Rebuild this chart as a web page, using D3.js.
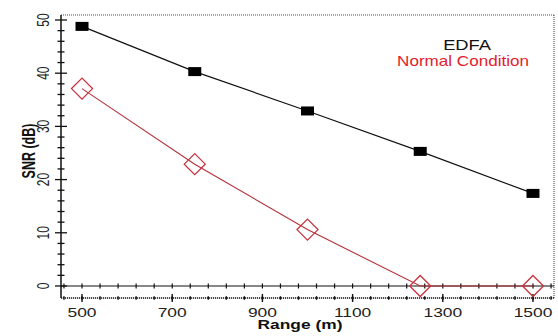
<!DOCTYPE html>
<html>
<head>
<meta charset="utf-8">
<script src="https://cdn.jsdelivr.net/npm/d3@7/dist/d3.min.js"></script>
<style>
  html, body { margin: 0; padding: 0; background: #fff; }
  svg { display: block; }
  text { font-family: "Liberation Sans", Arial, sans-serif; }
</style>
</head>
<body>
<svg id="chart" width="558" height="336"></svg>
<script>
// SNR versus link range, with and without EDFA
const ranges = [500, 750, 1000, 1250, 1500];
const snrEDFA = [48.8, 40.3, 32.9, 25.3, 17.4];
const snrNormal = [37.1, 22.9, 10.6, 0, 0];
const seriesNames = ["EDFA", "Normal Condition"];
const xTickValues = [500, 700, 900, 1100, 1300, 1500];
const yTickValues = [0, 10, 20, 30, 40, 50];
const xTitle = "Range (m)";
const yTitle = "SNR (dB)";

const svg = d3.select("#chart");
const plotLeft = 61, plotRight = 554, plotTop = 15, plotBottom = 298;

const x = d3.scaleLinear().domain([453.4, 1546.6]).range([plotLeft, plotRight]);
const y = d3.scaleLinear().domain([-2.26, 50.94]).range([plotBottom, plotTop]);

const stretch = 1.45; // wide rendering of axis lettering

// frame: dotted top and right edges
svg.append("line").attr("x1", plotLeft).attr("x2", plotRight).attr("y1", plotTop).attr("y2", plotTop)
  .attr("stroke", "#555").attr("stroke-width", 1.2).attr("stroke-dasharray", "1,1");
svg.append("line").attr("x1", plotRight).attr("x2", plotRight).attr("y1", plotTop).attr("y2", plotBottom)
  .attr("stroke", "#555").attr("stroke-width", 1.2).attr("stroke-dasharray", "1,1");

// bottom axis (dotted line with crossing ticks)
svg.append("line").attr("x1", plotLeft).attr("x2", plotRight).attr("y1", plotBottom).attr("y2", plotBottom)
  .attr("stroke", "#111").attr("stroke-width", 1.6).attr("stroke-dasharray", "1.2,0.8");
const minorX = d3.range(460, 1546, 40);
svg.append("g").selectAll("line").data(minorX).join("line")
  .attr("x1", d => x(d)).attr("x2", d => x(d))
  .attr("y1", plotBottom - 1.8).attr("y2", plotBottom + 1.8)
  .attr("stroke", "#111").attr("stroke-width", 1.4);
svg.append("g").selectAll("line").data(xTickValues).join("line")
  .attr("x1", d => x(d)).attr("x2", d => x(d))
  .attr("y1", plotBottom - 4).attr("y2", plotBottom + 4)
  .attr("stroke", "#111").attr("stroke-width", 1.4);

// zero line with small ticks
svg.append("line").attr("x1", plotLeft).attr("x2", plotRight).attr("y1", y(0)).attr("y2", y(0))
  .attr("stroke", "#111").attr("stroke-width", 1.2);
svg.append("g").selectAll("line").data(minorX).join("line")
  .attr("x1", d => x(d)).attr("x2", d => x(d))
  .attr("y1", y(0) - 2.5).attr("y2", y(0) + 2.5)
  .attr("stroke", "#111").attr("stroke-width", 1.2);

// left axis
svg.append("line").attr("x1", plotLeft).attr("x2", plotLeft).attr("y1", plotTop).attr("y2", plotBottom)
  .attr("stroke", "#111").attr("stroke-width", 1.5);
const minorY = d3.range(0, 51, 2).filter(v => v % 10 !== 0);
svg.append("g").selectAll("line").data(minorY).join("line")
  .attr("x1", plotLeft - 3.5).attr("x2", plotLeft + 3.5)
  .attr("y1", d => y(d)).attr("y2", d => y(d))
  .attr("stroke", "#111").attr("stroke-width", 1.3);
svg.append("g").selectAll("line").data(yTickValues).join("line")
  .attr("x1", plotLeft - 6).attr("x2", plotLeft + 6)
  .attr("y1", d => y(d)).attr("y2", d => y(d))
  .attr("stroke", "#111").attr("stroke-width", 1.3);

// tick labels
svg.append("g").selectAll("text").data(yTickValues).join("text")
  .attr("transform", d => `translate(43,${y(d)}) scale(${stretch},1) rotate(-90)`)
  .attr("text-anchor", "middle").attr("dy", "0.35em")
  .attr("font-size", 12).attr("fill", "#222")
  .text(d => d);
svg.append("g").selectAll("text").data(xTickValues).join("text")
  .attr("transform", d => `translate(${x(d)},317) scale(${stretch},1)`)
  .attr("text-anchor", "middle")
  .attr("font-size", 12).attr("fill", "#222")
  .text(d => d);

// axis titles
svg.append("text")
  .attr("transform", `translate(300,329) scale(${stretch},1)`)
  .attr("text-anchor", "middle").attr("font-size", 12).attr("font-weight", "bold")
  .attr("fill", "#111").text(xTitle);
svg.append("text")
  .attr("transform", `translate(29,151) scale(${stretch},1) rotate(-90)`)
  .attr("text-anchor", "middle").attr("dy", "0.35em")
  .attr("font-size", 12.5).attr("font-weight", "bold")
  .attr("fill", "#111").text(yTitle);

// series
const line = d3.line().x(d => x(d[0])).y(d => y(d[1]));
const edfa = ranges.map((r, i) => [r, snrEDFA[i]]);
const normal = ranges.map((r, i) => [r, snrNormal[i]]);

svg.append("path").datum(normal).attr("d", line)
  .attr("fill", "none").attr("stroke", "#b3313a").attr("stroke-width", 1.1);
svg.append("g").selectAll("path").data(normal).join("path")
  .attr("transform", d => `translate(${x(d[0])},${y(d[1])})`)
  .attr("d", "M0,-10.5L10.5,0L0,10.5L-10.5,0Z")
  .attr("fill", "none").attr("stroke", "#c8323e").attr("stroke-width", 1.3);

svg.append("path").datum(edfa).attr("d", line)
  .attr("fill", "none").attr("stroke", "#111").attr("stroke-width", 1.2);
svg.append("g").selectAll("rect").data(edfa).join("rect")
  .attr("x", d => x(d[0]) - 6.5).attr("y", d => y(d[1]) - 4.5)
  .attr("width", 13).attr("height", 9).attr("fill", "#000");

// legend text
svg.append("text")
  .attr("transform", "translate(467,50) scale(1.22,1)")
  .attr("text-anchor", "middle").attr("font-size", 15).attr("fill", "#111")
  .text(seriesNames[0]);
svg.append("text")
  .attr("transform", "translate(463,66) scale(1.22,1)")
  .attr("text-anchor", "middle").attr("font-size", 14).attr("fill", "#e3202c")
  .text(seriesNames[1]);
</script>
</body>
</html>
